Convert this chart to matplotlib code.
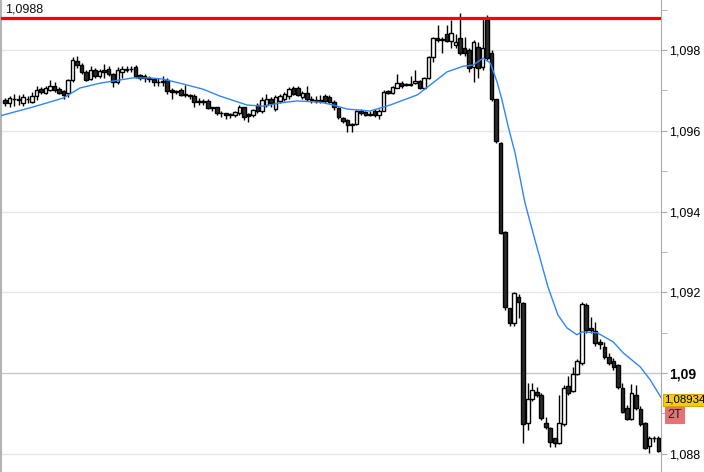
import numpy as np
import matplotlib
matplotlib.use('Agg')
from matplotlib import pyplot as plt
from matplotlib.ticker import FixedLocator

plt.rcParams['font.family'] = ['Liberation Sans', 'DejaVu Sans']

# OHLC candles (oldest first)
opens = [1.09676, 1.09668, 1.09680, 1.09680, 1.09670, 1.09680, 1.09672, 1.09685, 1.09703, 1.09694,
         1.09702, 1.09710, 1.09703, 1.09698, 1.09693, 1.09725, 1.09772, 1.09762, 1.09745, 1.09728,
         1.09750, 1.09735, 1.09750, 1.09752, 1.09740, 1.09722, 1.09745, 1.09750, 1.09752, 1.09757,
         1.09738, 1.09735, 1.09732, 1.09728, 1.09722, 1.09724, 1.09725, 1.09700, 1.09698, 1.09700,
         1.09690, 1.09688, 1.09685, 1.09673, 1.09672, 1.09675, 1.09658, 1.09658, 1.09645, 1.09643,
         1.09638, 1.09640, 1.09645, 1.09660, 1.09642, 1.09640, 1.09665, 1.09650, 1.09665, 1.09680,
         1.09653, 1.09675, 1.09680, 1.09685, 1.09705, 1.09705, 1.09683, 1.09694, 1.09680, 1.09677,
         1.09675, 1.09686, 1.09684, 1.09672, 1.09657, 1.09632, 1.09628, 1.09618, 1.09618, 1.09650,
         1.09647, 1.09640, 1.09650, 1.09640, 1.09650, 1.09698, 1.09693, 1.09707, 1.09719, 1.09715,
         1.09714, 1.09718, 1.09723, 1.09706, 1.09730, 1.09783, 1.09830, 1.09827, 1.09840, 1.09822,
         1.09812, 1.09830, 1.09805, 1.09800, 1.09758, 1.09808, 1.09758, 1.09875, 1.09793, 1.09678,
         1.09570, 1.09350, 1.09160, 1.09124, 1.09189, 1.09174, 1.08877, 1.08937, 1.08954, 1.08946,
         1.08877, 1.08864, 1.08838, 1.08828, 1.08874, 1.08969, 1.08956, 1.08998, 1.09025, 1.09168,
         1.09112, 1.09105, 1.09077, 1.09065, 1.09040, 1.09030, 1.09020, 1.08963, 1.08914, 1.08887,
         1.08946, 1.08911, 1.08877, 1.08820, 1.08840, 1.08840]
highs = [1.09681, 1.09685, 1.09690, 1.09688, 1.09690, 1.09686, 1.09695, 1.09710, 1.09708, 1.09710,
         1.09725, 1.09720, 1.09708, 1.09702, 1.09728, 1.09783, 1.09785, 1.09768, 1.09750, 1.09760,
         1.09755, 1.09752, 1.09765, 1.09760, 1.09742, 1.09757, 1.09760, 1.09760, 1.09760, 1.09762,
         1.09740, 1.09740, 1.09735, 1.09730, 1.09730, 1.09735, 1.09730, 1.09705, 1.09702, 1.09705,
         1.09713, 1.09690, 1.09690, 1.09682, 1.09680, 1.09678, 1.09660, 1.09660, 1.09648, 1.09645,
         1.09645, 1.09650, 1.09664, 1.09660, 1.09645, 1.09655, 1.09670, 1.09683, 1.09690, 1.09683,
         1.09688, 1.09690, 1.09695, 1.09708, 1.09712, 1.09710, 1.09698, 1.09710, 1.09685, 1.09685,
         1.09688, 1.09690, 1.09688, 1.09676, 1.09660, 1.09635, 1.09630, 1.09620, 1.09652, 1.09655,
         1.09650, 1.09650, 1.09655, 1.09653, 1.09700, 1.09701, 1.09712, 1.09740, 1.09723, 1.09718,
         1.09735, 1.09750, 1.09726, 1.09733, 1.09786, 1.09833, 1.09862, 1.09833, 1.09862, 1.09875,
         1.09840, 1.09892, 1.09832, 1.09805, 1.09825, 1.09820, 1.09882, 1.09888, 1.09800, 1.09680,
         1.09572, 1.09352, 1.09162, 1.09200, 1.09195, 1.09176, 1.08976, 1.08976, 1.08966, 1.08950,
         1.08892, 1.08867, 1.08840, 1.08945, 1.08970, 1.08993, 1.09015, 1.09035, 1.09175, 1.09174,
         1.09139, 1.09127, 1.09085, 1.09077, 1.09050, 1.09038, 1.09022, 1.08976, 1.08920, 1.08973,
         1.08970, 1.08918, 1.08880, 1.08843, 1.08844, 1.08845]
lows = [1.09661, 1.09660, 1.09662, 1.09665, 1.09662, 1.09670, 1.09668, 1.09676, 1.09690, 1.09690,
        1.09698, 1.09695, 1.09690, 1.09680, 1.09683, 1.09720, 1.09755, 1.09740, 1.09724, 1.09725,
        1.09730, 1.09730, 1.09730, 1.09735, 1.09708, 1.09715, 1.09730, 1.09745, 1.09745, 1.09730,
        1.09725, 1.09720, 1.09720, 1.09710, 1.09710, 1.09712, 1.09690, 1.09680, 1.09690, 1.09685,
        1.09683, 1.09680, 1.09660, 1.09665, 1.09665, 1.09655, 1.09650, 1.09640, 1.09635, 1.09630,
        1.09632, 1.09635, 1.09640, 1.09628, 1.09622, 1.09635, 1.09645, 1.09645, 1.09660, 1.09660,
        1.09648, 1.09670, 1.09675, 1.09680, 1.09688, 1.09685, 1.09680, 1.09675, 1.09670, 1.09668,
        1.09670, 1.09670, 1.09668, 1.09652, 1.09630, 1.09620, 1.09597, 1.09597, 1.09615, 1.09640,
        1.09636, 1.09637, 1.09635, 1.09630, 1.09648, 1.09690, 1.09690, 1.09705, 1.09705, 1.09710,
        1.09710, 1.09715, 1.09703, 1.09704, 1.09728, 1.09770, 1.09820, 1.09792, 1.09820, 1.09805,
        1.09805, 1.09788, 1.09785, 1.09745, 1.09721, 1.09730, 1.09750, 1.09775, 1.09675, 1.09570,
        1.09345, 1.09155, 1.09117, 1.09117, 1.09137, 1.08827, 1.08860, 1.08930, 1.08940, 1.08884,
        1.08862, 1.08817, 1.08817, 1.08825, 1.08870, 1.08946, 1.08952, 1.08995, 1.09020, 1.09100,
        1.09100, 1.09067, 1.09060, 1.09035, 1.09020, 1.09008, 1.08960, 1.08900, 1.08884, 1.08884,
        1.08909, 1.08870, 1.08812, 1.08803, 1.08830, 1.08805]
closes = [1.09668, 1.09681, 1.09678, 1.09676, 1.09683, 1.09678, 1.09685, 1.09701, 1.09695, 1.09705,
          1.09710, 1.09700, 1.09694, 1.09688, 1.09725, 1.09775, 1.09762, 1.09745, 1.09727, 1.09750,
          1.09735, 1.09748, 1.09745, 1.09740, 1.09722, 1.09750, 1.09752, 1.09753, 1.09754, 1.09735,
          1.09732, 1.09730, 1.09728, 1.09720, 1.09720, 1.09720, 1.09698, 1.09697, 1.09696, 1.09689,
          1.09688, 1.09685, 1.09672, 1.09672, 1.09674, 1.09657, 1.09656, 1.09645, 1.09643, 1.09638,
          1.09641, 1.09647, 1.09660, 1.09633, 1.09636, 1.09651, 1.09650, 1.09676, 1.09680, 1.09668,
          1.09683, 1.09685, 1.09690, 1.09703, 1.09692, 1.09688, 1.09694, 1.09678, 1.09677, 1.09675,
          1.09677, 1.09673, 1.09672, 1.09658, 1.09633, 1.09625, 1.09615, 1.09614, 1.09649, 1.09645,
          1.09640, 1.09641, 1.09640, 1.09650, 1.09697, 1.09693, 1.09709, 1.09718, 1.09710, 1.09713,
          1.09717, 1.09723, 1.09706, 1.09730, 1.09783, 1.09830, 1.09826, 1.09825, 1.09822, 1.09843,
          1.09820, 1.09793, 1.09792, 1.09755, 1.09820, 1.09755, 1.09805, 1.09780, 1.09680, 1.09575,
          1.09347, 1.09164, 1.09125, 1.09199, 1.09176, 1.08874, 1.08937, 1.08959, 1.08946, 1.08889,
          1.08867, 1.08830, 1.08828, 1.08877, 1.08964, 1.08951, 1.08998, 1.09030, 1.09171, 1.09107,
          1.09107, 1.09075, 1.09073, 1.09040, 1.09025, 1.09015, 1.08966, 1.08904, 1.08887, 1.08951,
          1.08914, 1.08874, 1.08815, 1.08840, 1.08838, 1.08806]

# moving average (candle index, value)
ma_idx = [-1.1, 6.2, 12.9, 14.4, 16.6, 21.1, 25.5, 28.4, 32.2, 35.1, 38.8, 44.0, 47.7, 53.7,
          57.3, 61.0, 64.8, 69.9, 72.8, 75.9, 81.0, 85.5, 91.5, 94.3, 98.1, 101.7, 103.9, 106.1,
          107.7, 109.2, 110.3, 111.7, 113.2, 115.4, 117.6, 120.5, 122.7, 124.7, 126.9, 128.1,
          131.4, 135.0, 137.2, 141.0, 143.2, 145.6]
ma_val = [1.09637, 1.09659, 1.09681, 1.09691, 1.09706, 1.09718, 1.09726, 1.09731, 1.09731, 1.09728,
          1.09718, 1.09703, 1.09686, 1.09664, 1.09661, 1.09669, 1.09674, 1.09671, 1.09664, 1.09654,
          1.09649, 1.09664, 1.09689, 1.09713, 1.09746, 1.09760, 1.09763, 1.09780, 1.09768, 1.09721,
          1.09676, 1.09609, 1.09545, 1.09421, 1.09330, 1.09213, 1.09144, 1.09112, 1.09095, 1.09102,
          1.09100, 1.09077, 1.09050, 1.09015, 1.08983, 1.08939]

level = 1.0988
yticks = [1.088, 1.090, 1.092, 1.094, 1.096, 1.098]
ytick_labels = ['1,088', '1,09', '1,092', '1,094', '1,096', '1,098']
last_label = '1,08934'
tf_label = '2T'

fig = plt.figure(figsize=(7.04, 4.72), dpi=100)
ax = fig.add_axes([1 / 704, 0, 660 / 704, 1])

o = np.array(opens)
h = np.array(highs)
l = np.array(lows)
c = np.array(closes)
x = np.arange(len(o))
up = c >= o

# wicks
ax.vlines(x, l, h, color='black', linewidth=1.0, zorder=3)
# bodies
bottom = np.minimum(o, c)
height = np.maximum(np.abs(c - o), 0.000015)
ax.bar(x[up], height[up], bottom=bottom[up], width=0.8, facecolor='white',
       edgecolor='black', linewidth=1.0, zorder=4)
ax.bar(x[~up], height[~up], bottom=bottom[~up], width=0.8, facecolor='#2a2a2a',
       edgecolor='black', linewidth=1.0, zorder=4)

ax.plot(ma_idx, ma_val, color='#2f86f5', linewidth=1.0, zorder=5)

ax.axhline(level, color='#ff0000', linewidth=2.3, zorder=6)
ax.text(4 / 660, level + 0.00005, '1,0988', transform=ax.get_yaxis_transform(),
        fontsize=9, color='#111111', va='bottom', ha='left')

ax.set_xlim(-0.888, 145.58)
ax.set_ylim(1.08755, 1.09924)

# grid
for t in yticks:
    ax.axhline(t, color='#c8c8c8' if t == 1.090 else '#e6e6e6', linewidth=1.0, zorder=1)

ax.yaxis.tick_right()
ax.yaxis.set_major_locator(FixedLocator(yticks))
ax.yaxis.set_minor_locator(FixedLocator([1.089, 1.091, 1.093, 1.095, 1.097, 1.099]))
ax.set_yticklabels(ytick_labels)
ax.tick_params(axis='y', which='major', length=4, color='#aaaaaa', labelsize=9, pad=2)
ax.tick_params(axis='y', which='minor', length=4, color='#aaaaaa')
for lab in ax.get_yticklabels():
    if lab.get_text() == '1,09':
        lab.set_fontweight('bold')
        lab.set_fontsize(10)
ax.set_xticks([])

for s in ['top', 'bottom']:
    ax.spines[s].set_visible(False)
ax.spines['left'].set_color('#b4b4b4')
ax.spines['right'].set_color('#aaaaaa')
ax.spines['left'].set_linewidth(1.5)

fig.text(664 / 704, 1 - 400 / 472, last_label, fontsize=8.2, va='center', ha='left',
         bbox=dict(boxstyle='square,pad=0.12', facecolor='#f6cb16', edgecolor='#d4aa00', linewidth=0.8))
fig.text(667 / 704, 1 - 415 / 472, tf_label, fontsize=9, va='center', ha='left', color='#222222',
         bbox=dict(boxstyle='square,pad=0.15', facecolor='#e57373', edgecolor='#e57373', linewidth=0.8))

fig.savefig('out.png', dpi=100)
